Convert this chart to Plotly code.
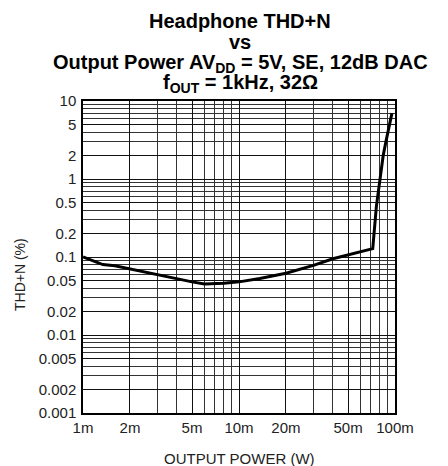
import plotly.graph_objects as go

# Data
power_w = [0.001, 0.0012, 0.00134, 0.0016, 0.002, 0.003, 0.004, 0.005, 0.006, 0.008, 0.010, 0.0136, 0.020, 0.030, 0.040, 0.055, 0.072, 0.076, 0.080, 0.084, 0.088, 0.092, 0.0956]
thdn_pct = [0.100, 0.088, 0.080, 0.077, 0.070, 0.060, 0.053, 0.048, 0.045, 0.046, 0.048, 0.053, 0.062, 0.078, 0.095, 0.113, 0.128, 0.45, 1.0, 2.0, 3.2, 5.0, 7.0]

x_tickvals = [0.001, 0.002, 0.005, 0.01, 0.02, 0.05, 0.1]
x_ticktext = ["1m", "2m", "5m", "10m", "20m", "50m", "100m"]
y_tickvals = [10, 5, 2, 1, 0.5, 0.2, 0.1, 0.05, 0.02, 0.01, 0.005, 0.002, 0.001]
y_ticktext = ["10", "5", "2", "1", "0.5", "0.2", "0.1", "0.05", "0.02", "0.01", "0.005", "0.002", "0.001"]

title_lines = [
    "Headphone THD+N",
    "vs",
    "Output Power AV<sub>DD</sub> = 5V, SE, 12dB DAC",
    "f<sub>OUT</sub> = 1kHz, 32Ω",
]
x_title = "OUTPUT POWER (W)"
y_title = "THD+N (%)"

x_minor = [m * 10.0 ** e for e in (-3, -2) for m in range(1, 10)] + [0.1]
y_minor = [m * 10.0 ** e for e in (-3, -2, -1, 0) for m in range(1, 10)] + [10]

OFF = 8  # page body margin
W, H = 448 - OFF, 466 - OFF
L, R, T, B = 83 - OFF, 53, 101 - OFF, 53
PW, PH = W - L - R, H - T - B

def px_x(px):
    return (px - OFF - L) / PW

def px_y(py):
    return (H - B - (py - OFF)) / PH

fig = go.Figure()
fig.add_trace(go.Scatter(x=power_w, y=thdn_pct, mode="lines",
                         line=dict(color="black", width=3), showlegend=False))

font = "Liberation Sans, Arial, sans-serif"
fig.update_layout(
    width=W, height=H,
    margin=dict(l=L, r=R, t=T, b=B, autoexpand=False),
    paper_bgcolor="white", plot_bgcolor="white",
    font=dict(family=font, size=14, color="#222"),
)

title_centers = [20.5, 41.5, 63.5, 83.5]
for txt, cy in zip(title_lines, title_centers):
    fig.add_annotation(text="<b>" + txt + "</b>", xref="paper", yref="paper",
                       x=px_x(240), y=px_y(cy), xanchor="center", yanchor="middle",
                       showarrow=False, font=dict(family=font, size=20, color="black"))

fig.add_annotation(text=x_title, xref="paper", yref="paper",
                   x=px_x(239), y=px_y(458), xanchor="center", yanchor="middle",
                   showarrow=False, font=dict(family=font, size=15, color="#222"))
fig.add_annotation(text=y_title, xref="paper", yref="paper", textangle=-90,
                   x=px_x(20), y=px_y(275), xanchor="center", yanchor="middle",
                   showarrow=False, font=dict(family=font, size=14, color="#222"))

fig.update_xaxes(type="log", range=[-3, -1], tickvals=x_tickvals, ticktext=x_ticktext,
                 showgrid=True, gridcolor="#111", gridwidth=1,
                 minor=dict(tickvals=x_minor, showgrid=True, gridcolor="#333", gridwidth=1, ticks=""),
                 showline=True, linecolor="black", linewidth=1.5, mirror=True, ticks="",
                 zeroline=False, ticklabelstandoff=0,
                 tickfont=dict(size=15, color="#222"))
fig.update_yaxes(type="log", range=[-3, 1], tickvals=y_tickvals, ticktext=y_ticktext,
                 showgrid=True, gridcolor="#111", gridwidth=1,
                 minor=dict(tickvals=y_minor, showgrid=True, gridcolor="#333", gridwidth=1, ticks=""),
                 showline=True, linecolor="black", linewidth=1.5, mirror=True, ticks="",
                 zeroline=False, ticklabelstandoff=2,
                 tickfont=dict(size=15, color="#222"))

fig.write_html("out.html")
